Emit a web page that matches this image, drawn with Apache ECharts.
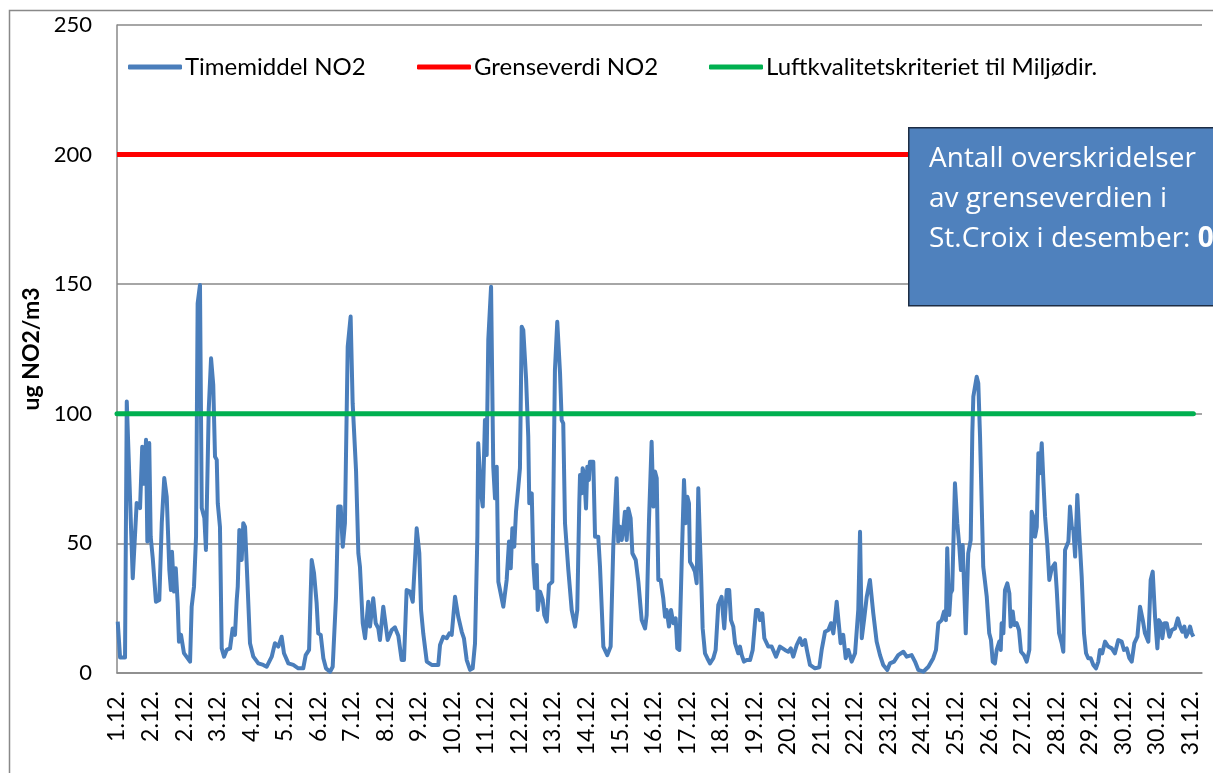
<!DOCTYPE html>
<html>
<head>
<meta charset="utf-8">
<script src="https://cdn.jsdelivr.net/npm/echarts@6/dist/echarts.min.js"></script>
<style>
  html, body { margin: 0; padding: 0; background: #fff; }
  #NO2Chart { width: 1213px; height: 773px; }
</style>
</head>
<body>
<div id="NO2Chart"></div>
<script>
// x tick labels, one every 23 hours (as in the original sheet)
var dayLabels = [
  "1.12.", "2.12.", "2.12.", "3.12.", "4.12.", "5.12.", "6.12.", "7.12.", "8.12.",
  "9.12.", "10.12.", "11.12.", "12.12.", "13.12.", "14.12.", "15.12.", "16.12.",
  "17.12.", "18.12.", "19.12.", "20.12.", "21.12.", "22.12.", "23.12.", "24.12.",
  "25.12.", "26.12.", "27.12.", "28.12.", "29.12.", "30.12.", "30.12.", "31.12."
];
var labelStep = 23;   // hours between labels
var monthHours = 744;

// [hour of month, ug NO2/m3]
var no2Hourly = [
  [0.5,19.8],[2.1,6.0],[5.5,6.0],[6.7,104.7],[10.8,36.6],[13.5,65.6],[15.8,63.6],[17.3,87.3],[18.7,73.0],[19.9,90.0],
  [20.8,50.7],[22.1,88.7],[23.1,52.6],[24.5,44.4],[26.7,27.5],[29.0,28.2],[30.7,57.9],[32.4,75.2],[34.1,68.0],[35.9,39.7],
  [37.0,32.0],[37.7,46.8],[39.1,31.4],[40.3,40.4],[41.6,27.0],[42.5,12.1],[43.9,14.7],[45.9,7.7],[50.1,4.4],[51.2,25.6],
  [52.8,33.3],[54.2,52.6],[55.3,142.6],[56.9,149.7],[58.1,63.7],[59.9,59.8],[61.0,47.5],[62.9,101.5],[64.5,121.4],[66.0,111.1],
  [67.2,83.5],[68.4,82.2],[69.1,65.5],[70.6,56.4],[71.8,9.5],[73.4,6.3],[75.2,8.9],[77.5,9.5],[79.3,17.2],[80.9,14.7],
  [82.1,28.2],[82.8,33.3],[83.9,55.2],[85.5,43.6],[86.6,57.8],[87.8,56.4],[88.9,42.4],[91.2,11.5],[93.5,6.3],[96.9,3.7],
  [100.3,3.1],[102.6,2.4],[106.1,6.3],[108.3,11.5],[110.6,10.2],[112.9,14.0],[114.5,7.6],[117.5,3.7],[120.9,3.1],[124.3,1.8],
  [127.7,1.8],[129.4,6.9],[131.7,8.9],[133.5,43.6],[135.1,38.5],[136.9,26.9],[138.0,15.3],[139.7,14.7],[141.5,5.7],[143.3,1.8],
  [146.1,0.5],[147.9,2.4],[150.2,29.4],[151.7,64.2],[153.4,64.2],[154.8,48.7],[156.3,57.8],[158.2,125.9],[160.2,137.5],[161.6,104.0],
  [163.9,78.3],[165.5,46.2],[166.6,41.0],[168.5,19.2],[170.1,13.4],[172.3,27.5],[173.5,17.9],[175.7,28.8],[177.4,19.2],[179.2,17.2],
  [180.3,12.7],[182.6,25.6],[185.6,12.7],[188.4,16.6],[190.6,17.6],[192.9,14.4],[195.2,5.0],[196.8,5.0],[198.6,32.0],[200.9,31.4],
  [202.8,27.5],[205.5,55.8],[207.3,46.2],[208.5,24.3],[210.0,15.3],[212.4,4.4],[215.8,3.1],[220.3,3.1],[221.5,10.8],[223.7,14.0],
  [226.1,13.4],[227.9,15.3],[229.5,14.7],[231.8,29.4],[234.0,21.7],[236.4,15.9],[237.9,13.4],[239.8,5.0],[242.1,1.2],[243.9,1.8],
  [245.5,11.5],[247.1,52.6],[247.7,88.6],[249.4,70.6],[250.8,64.2],[252.3,97.6],[253.5,84.1],[254.6,128.5],[256.5,149.0],[258.0,79.6],
  [259.2,67.4],[260.4,79.6],[261.5,35.2],[262.6,34.6],[264.9,25.6],[267.2,35.9],[268.8,50.7],[270.0,40.4],[271.1,55.8],[272.4,48.7],
  [273.6,62.2],[275.2,71.9],[276.3,79.0],[277.5,133.6],[278.6,132.3],[279.8,131.7],[280.5,113.7],[282.0,91.2],[282.7,65.5],[284.4,69.3],
  [285.5,42.3],[286.6,32.7],[287.8,41.7],[288.5,24.3],[290.1,31.4],[291.9,28.2],[293.0,22.4],[294.7,19.8],[296.2,34.0],[298.5,35.2],
  [300.3,116.9],[301.9,135.5],[303.8,115.6],[304.9,97.6],[306.0,96.3],[307.2,57.8],[309.5,39.7],[311.8,24.3],[314.1,17.9],[315.6,24.3],
  [317.0,65.5],[317.5,76.4],[318.6,69.3],[319.3,79.0],[320.4,76.4],[321.6,63.5],[322.5,79.6],[323.6,74.5],[324.3,81.5],[326.6,81.5],
  [327.8,52.6],[330.0,52.6],[331.2,41.0],[333.5,10.2],[336.2,6.9],[338.5,10.2],[340.3,48.7],[342.6,75.1],[343.7,50.7],[344.9,56.4],
  [346.1,51.3],[347.2,55.8],[348.3,62.2],[349.5,51.3],[350.6,63.5],[352.2,59.7],[353.4,46.2],[355.7,43.6],[357.5,35.2],[359.8,20.4],
  [362.1,17.2],[363.2,22.4],[364.8,59.0],[366.6,89.2],[367.8,64.2],[368.9,77.7],[370.1,75.1],[371.2,35.9],[372.8,35.9],[374.6,28.8],
  [375.8,21.7],[376.9,24.3],[378.5,17.9],[379.9,24.3],[381.5,19.2],[383.1,21.1],[384.2,9.5],[385.6,8.9],[387.2,42.3],[388.8,74.5],
  [390.0,57.8],[391.1,68.0],[392.2,65.5],[392.9,42.9],[394.8,41.0],[396.3,39.1],[397.5,34.6],[398.6,71.3],[399.8,50.0],[400.5,38.5],
  [401.6,17.2],[403.2,7.6],[404.8,5.7],[406.6,3.7],[408.9,5.7],[410.5,8.9],[412.3,26.2],[414.6,29.4],[415.7,21.7],[416.4,17.2],
  [418.1,32.0],[419.8,32.0],[421.0,20.4],[422.6,17.9],[423.8,11.5],[424.9,12.1],[426.0,7.6],[427.2,10.2],[428.4,6.9],[429.9,4.4],
  [431.8,5.0],[434.1,5.0],[435.9,8.9],[438.2,24.3],[439.7,24.3],[440.9,20.4],[442.5,23.0],[443.9,13.4],[446.6,10.2],[448.9,10.2],
  [451.9,6.3],[454.6,10.2],[458.0,8.9],[460.3,8.2],[462.0,9.5],[463.7,6.3],[466.1,10.8],[468.3,13.4],[469.9,10.8],[471.8,12.7],
  [473.3,8.2],[475.2,3.1],[478.6,1.8],[481.6,2.2],[483.2,8.9],[485.5,15.9],[487.8,16.6],[489.6,19.2],[491.2,15.3],[492.4,21.1],
  [493.5,27.5],[494.9,19.2],[496.2,11.5],[498.0,14.7],[499.7,5.7],[501.5,8.9],[503.8,4.4],[506.1,7.6],[508.3,24.3],[509.5,54.5],
  [510.7,13.4],[512.4,21.1],[514.1,29.4],[516.3,35.9],[518.6,23.0],[520.9,12.1],[523.2,6.9],[525.4,3.1],[528.2,1.2],[530.0,3.7],
  [532.8,4.4],[535.7,6.9],[539.2,8.2],[541.5,6.3],[544.9,6.9],[547.2,4.4],[549.5,1.2],[552.9,0.5],[556.4,2.4],[559.7,5.7],
  [561.6,8.9],[563.2,19.2],[565.5,20.4],[567.1,23.7],[568.4,20.4],[569.3,48.1],[570.7,22.4],[571.6,30.7],[572.7,32.0],[574.6,73.2],
  [576.2,57.8],[577.6,48.7],[578.7,39.7],[579.9,49.4],[580.8,48.7],[582.0,15.3],[583.7,46.2],[585.4,51.3],[586.5,92.5],[587.2,106.6],
  [588.3,106.0],[589.5,114.3],[590.6,111.8],[591.8,91.2],[592.9,91.2],[594.0,41.0],[596.4,29.4],[598.1,15.3],[599.3,12.7],[600.5,4.4],
  [602.0,3.7],[603.2,8.9],[605.0,12.1],[606.0,8.9],[606.6,19.2],[607.8,15.3],[608.9,32.0],[610.5,34.6],[611.9,30.7],[612.8,17.9],
  [614.2,23.7],[615.3,18.5],[616.9,19.2],[618.5,16.6],[619.9,8.2],[621.9,6.9],[623.8,4.4],[625.6,8.9],[627.2,62.2],[628.3,60.3],
  [629.5,52.6],[630.7,56.4],[631.8,84.8],[632.9,77.1],[634.1,88.6],[635.2,74.5],[636.4,60.3],[638.0,48.7],[639.3,35.9],[641.0,40.4],
  [643.2,42.3],[644.4,32.0],[646.0,15.3],[647.8,11.5],[648.9,8.2],[650.1,47.5],[651.3,47.5],[652.4,50.7],[653.5,64.2],[654.7,56.4],
  [655.8,55.2],[657.0,44.9],[658.5,68.7],[659.9,53.2],[661.5,37.2],[663.1,15.3],[664.5,7.6],[666.0,5.7],[667.7,5.7],[669.5,3.1],
  [671.3,1.8],[672.9,4.4],[674.0,8.9],[675.6,7.6],[677.5,12.1],[679.7,10.2],[682.1,9.5],[684.3,7.6],[686.6,12.7],[688.9,12.1],
  [690.5,8.9],[692.4,9.5],[694.2,5.7],[695.8,4.4],[697.6,11.5],[699.7,14.0],[701.5,25.6],[703.4,20.4],[704.9,15.3],[707.2,12.1],
  [708.8,35.9],[710.2,39.1],[711.8,21.7],[713.4,9.5],[714.5,20.4],[715.7,19.2],[716.8,13.4],[718.2,19.2],[719.8,19.2],[721.6,14.0],
  [723.3,16.6],[725.5,17.2],[727.4,21.1],[729.0,17.9],[730.5,15.9],[731.9,17.9],[733.1,14.0],[734.7,15.9],[735.8,17.9],[737.0,15.3],
  [738.1,14.0]
];

var limitNO2 = 200;      // Grenseverdi
var criterionNO2 = 100;  // Luftkvalitetskriteriet
var yTicks = [0, 50, 100, 150, 200, 250];

var chartDom = document.getElementById("NO2Chart");
var myChart = echarts.init(chartDom);

var firstHour = no2Hourly[0][0] - 0.5;
var lastHour = no2Hourly[no2Hourly.length - 1][0];
var exceedances = no2Hourly.filter(function (p) { return p[1] > limitNO2; }).length;

var font = "Lato";
var boxFont = "Open Sans";
var gridGray = "#898989";

function legendAt(name, left) {
  return {
    data: [name],
    left: left,
    top: 50,
    icon: "roundRect",
    itemWidth: 54,
    itemHeight: 5,
    textStyle: { fontFamily: font, fontSize: 24, color: "#000", padding: [0, 0, 0, -2] }
  };
}

var option = {
  animation: false,
  legend: [
    legendAt("Timemiddel NO2", 123),
    legendAt("Grenseverdi NO2", 412),
    legendAt("Luftkvalitetskriteriet til Miljødir.", 704)
  ],
  grid: { left: 117, right: 11, top: 25, bottom: 100 },
  xAxis: {
    type: "value",
    min: 0,
    max: monthHours,
    interval: labelStep,
    axisLine: { lineStyle: { color: gridGray, width: 1.5 } },
    axisTick: { show: false },
    splitLine: { show: false },
    axisLabel: {
      rotate: 90,
      margin: 18,
      showMaxLabel: false,
      fontFamily: font,
      fontSize: 23,
      color: "#000",
      formatter: function (v) { return dayLabels[Math.round(v / labelStep)] || ""; }
    }
  },
  yAxis: {
    type: "value",
    min: yTicks[0],
    max: yTicks[yTicks.length - 1],
    interval: yTicks[1] - yTicks[0],
    name: "ug NO2/m3",
    nameLocation: "middle",
    nameGap: 73,
    nameTextStyle: { fontFamily: font, fontSize: 23, fontWeight: "bold", color: "#000" },
    axisLine: { show: true, lineStyle: { color: gridGray, width: 1.5 } },
    axisTick: { show: false },
    splitLine: { lineStyle: { color: gridGray, width: 1.5 } },
    axisLabel: { margin: 25, fontFamily: font, fontSize: 22, color: "#000" }
  },
  series: [
    {
      name: "Timemiddel NO2",
      type: "line",
      data: no2Hourly,
      showSymbol: false,
      color: "#4A7EBB",
      lineStyle: { width: 4, color: "#4A7EBB", join: "round" },
      z: 2
    },
    {
      name: "Grenseverdi NO2",
      type: "line",
      data: [[firstHour, limitNO2], [lastHour, limitNO2]],
      showSymbol: false,
      color: "#FF0000",
      lineStyle: { width: 5, color: "#FF0000" },
      z: 3
    },
    {
      name: "Luftkvalitetskriteriet til Miljødir.",
      type: "line",
      data: [[firstHour, criterionNO2], [lastHour, criterionNO2]],
      showSymbol: false,
      color: "#00B050",
      lineStyle: { width: 5, color: "#00B050", cap: "round" },
      z: 4
    }
  ],
  graphic: [
    {
      type: "rect",
      left: 7,
      top: 8,
      silent: true,
      z: -1,
      shape: { width: 1400, height: 900 },
      style: { fill: "none", stroke: gridGray, lineWidth: 1.5 }
    },
    {
      type: "rect",
      left: 908,
      top: 127,
      z: 100,
      zlevel: 1,
      shape: { width: 330, height: 178 },
      style: { fill: "#4F81BD", stroke: "#1d2d44", lineWidth: 1.5 }
    },
    {
      type: "text",
      left: 929,
      top: 139,
      z: 101,
      zlevel: 1,
      style: {
        text: "Antall overskridelser\nav grenseverdien i\nSt.Croix i desember: {b|" + exceedances + "}",
        fill: "#fff",
        fontFamily: boxFont,
        fontSize: 28,
        lineHeight: 40,
        rich: {
          b: { fontFamily: boxFont, fontSize: 28, fontWeight: "bold", fill: "#fff", lineHeight: 40 }
        }
      }
    }
  ]
};

myChart.setOption(option);
window.addEventListener("resize", myChart.resize);
</script>
</body>
</html>
